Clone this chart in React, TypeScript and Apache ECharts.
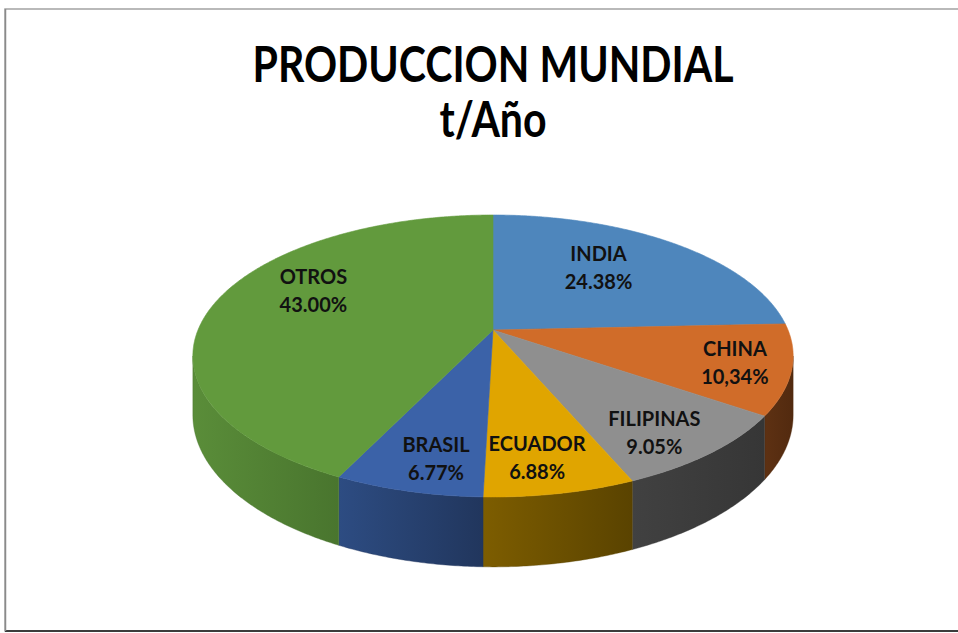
import React, { useEffect, useRef } from "react";
import * as echarts from "echarts";

// ---- data ----
const CATEGORIES = ["INDIA", "CHINA", "FILIPINAS", "ECUADOR", "BRASIL", "OTROS"];
const VALUES = [24.38, 10.34, 9.05, 6.88, 6.77, 43.0];
const PERCENT_LABELS = ["24.38%", "10,34%", "9.05%", "6.88%", "6.77%", "43.00%"];
const TITLE_LINES = ["PRODUCCION MUNDIAL", "t/Año"];

// ---- styles ----
const TOP_COLORS = ["#4e86bc", "#d06c29", "#8f8f8f", "#e0a500", "#3b62a8", "#629a3d"];
const WALL_COLORS = [
  ["#3a6690", "#2f5577"],
  ["#5e3113", "#522a0f"],
  ["#414141", "#363636"],
  ["#7d5d00", "#5a4300"],
  ["#2d4c82", "#21365d"],
  ["#5a8d39", "#49752e"],
];
const LABEL_NUDGE = [[-25, 0], [36, 5], [16, 20], [0, 20], [-1, 22], [16, -19]];

// ---- 3D projection of the pie ----
const CX = 493;
const CY = 330;
const RX = 295;
const RY = 136.2;
const PERSP = 0.1844;
const DEPTH = 57;
const FONT = "Lato, 'Open Sans', sans-serif";

function proj(deg: number, r: number, depth: number) {
  const t = (deg * Math.PI) / 180;
  const u = r * Math.sin(t);
  const v = -r * Math.cos(t);
  const w = 1 - PERSP * v;
  return [CX + (RX * u) / w, CY + (RY * v) / w + depth / w];
}

const VIS_START = 90 + (Math.asin(PERSP) * 180) / Math.PI;
const VIS_END = 270 - (Math.asin(PERSP) * 180) / Math.PI;

function arc(a: number, b: number, r: number, depth: number) {
  const pts: number[][] = [];
  const n = Math.max(2, Math.ceil(Math.abs(b - a) / 0.5));
  for (let j = 0; j <= n; j++) pts.push(proj(a + ((b - a) * j) / n, r, depth));
  return pts;
}

function measure(text: string, font: string) {
  const ctx = document.createElement("canvas").getContext("2d");
  if (!ctx) return 0;
  ctx.font = font;
  return ctx.measureText(text).width;
}

export default function App() {
  const ref = useRef<HTMLDivElement>(null);
  useEffect(() => {
    if (!ref.current) return;
    const chart = echarts.init(ref.current, undefined, { renderer: "svg" });
    const total = VALUES.reduce((s, v) => s + v, 0);
    const starts: number[] = [];
    let acc = 0;
    VALUES.forEach((v) => {
      starts.push((acc / total) * 360);
      acc += v;
    });

    const titleSize = 49;
    const titleFont = `bold ${titleSize}px Lato`;
    const w1 = measure(TITLE_LINES[0], titleFont) || 540;
    const titleScale = 481 / w1;

    const renderItem = (params: any) => {
      const i = params.dataIndex;
      const a0 = starts[i];
      const a1 = a0 + (VALUES[i] / total) * 360;
      const children: any[] = [];
      const wa = Math.max(a0, VIS_START);
      const wb = Math.min(a1, VIS_END);
      if (wa < wb) {
        const top = arc(wa, wb, 1, 0);
        const bottom = arc(wb, wa, 1, DEPTH);
        children.push({
          type: "polygon",
          z2: 1,
          shape: { points: top.concat(bottom) },
          style: {
            fill: new echarts.graphic.LinearGradient(0, 0, 1, 0, [
              { offset: 0, color: WALL_COLORS[i][0] },
              { offset: 1, color: WALL_COLORS[i][1] },
            ]),
            stroke: WALL_COLORS[i][1],
            lineWidth: 0.4,
          },
        });
      }
      const topPts = [[CX, CY]].concat(arc(a0, a1, 1, 0));
      children.push({
        type: "polygon",
        z2: 2,
        shape: { points: topPts },
        style: { fill: TOP_COLORS[i], stroke: TOP_COLORS[i], lineWidth: 0.6, lineJoin: "round" },
      });
      const mid = (a0 + a1) / 2;
      const p = proj(mid, 0.7, 0);
      children.push({
        type: "text",
        z2: 10,
        x: p[0] + LABEL_NUDGE[i][0],
        y: p[1] + LABEL_NUDGE[i][1],
        style: {
          text: CATEGORIES[i] + "\n" + PERCENT_LABELS[i],
          fill: "#111111",
          fontFamily: FONT,
          fontWeight: "bold",
          fontSize: 20,
          lineHeight: 28,
          align: "center",
          verticalAlign: "middle",
        },
      });
      return { type: "group", children };
    };

    chart.setOption({
      animation: false,
      backgroundColor: "#ffffff",
      graphic: [
        {
          type: "rect",
          z: -10,
          shape: { x: 5, y: 9, width: 1000, height: 622 },
          style: { fill: "#ffffff", stroke: "#a3a3a3", lineWidth: 1.5 },
        },
        {
          type: "line",
          z: -9,
          shape: { x1: 5, y1: 631, x2: 958, y2: 631 },
          style: { stroke: "#3c3c3c", lineWidth: 2 },
        },
        {
          type: "line",
          z: -9,
          shape: { x1: 5.5, y1: 9, x2: 5.5, y2: 631 },
          style: { stroke: "#8a8a8a", lineWidth: 1.5 },
        },
        {
          type: "text",
          x: 493,
          y: 63,
          scaleX: titleScale,
          style: {
            text: TITLE_LINES[0],
            fill: "#000000",
            fontFamily: FONT,
            fontWeight: "bold",
            fontSize: titleSize,
            align: "center",
            verticalAlign: "middle",
          },
        },
        {
          type: "text",
          x: 493,
          y: 118,
          scaleX: titleScale,
          style: {
            text: TITLE_LINES[1],
            fill: "#000000",
            fontFamily: FONT,
            fontWeight: "bold",
            fontSize: titleSize,
            align: "center",
            verticalAlign: "middle",
          },
        },
      ],
      series: [
        {
          type: "custom",
          coordinateSystem: "none",
          silent: true,
          clip: false,
          renderItem,
          data: VALUES.map((v, i) => ({ value: v, name: CATEGORIES[i] })),
        },
      ],
    });
    return () => chart.dispose();
  }, []);
  return (
    <div
      ref={ref}
      style={{ position: "absolute", left: 0, top: 0, width: 958, height: 633 }}
    />
  );
}
